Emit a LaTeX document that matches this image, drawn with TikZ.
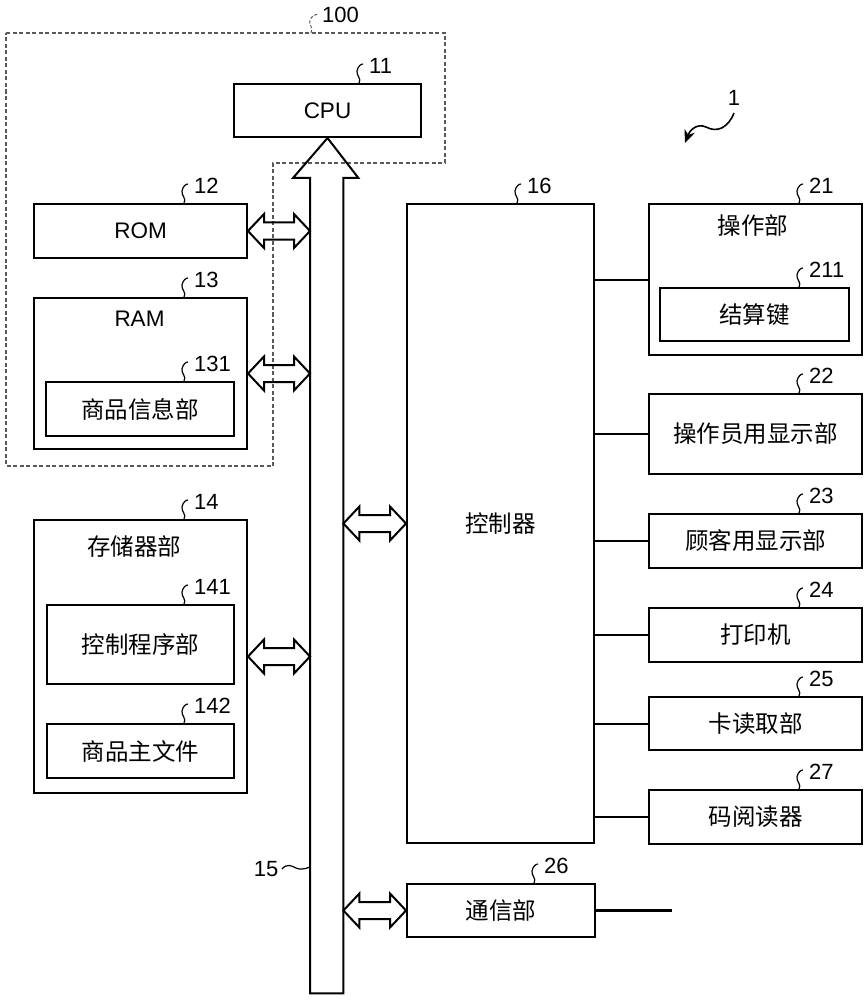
\documentclass[tikz,border=0pt]{standalone}
\usepackage{fontspec}
\setmainfont{Liberation Sans}
\newfontfamily\cjk{Noto Sans CJK SC}
\usetikzlibrary{calc,arrows.meta}

\newcommand{\dbl}[2]{\draw[dblarr] let \p1=(#1), \p2=(#2) in
  (\x1,\y1) -- (\x1+16pt,\y1+17pt) -- (\x1+16pt,\y1+8.5pt) -- (\x2-16pt,\y1+8.5pt) -- (\x2-16pt,\y1+17pt)
  -- (\x2,\y1) -- (\x2-16pt,\y1-17pt) -- (\x2-16pt,\y1-8.5pt) -- (\x1+16pt,\y1-8.5pt) -- (\x1+16pt,\y1-17pt) -- cycle;}

\newcommand{\reftag}[3]{%
  \path ($(#1.north east)+(-#2,0)$) coordinate (tg#3);
  \begin{scope}[shift={(tg#3)}]
    \draw[tagline] (0,0) .. controls (3,-4) and (-3,-8) .. (-2,-12) .. controls (-1,-17) and (2,-19) .. (4,-19);
    \node[tagtext, anchor=west] (lbl#3) at (10,-17) {#3};
  \end{scope}}

\begin{document}
\begin{tikzpicture}[x=1pt,y=-1pt,
  box/.style={draw, line width=2pt, rectangle, inner sep=0pt, anchor=north west, font=\cjk\fontsize{23.5}{27}\selectfont},
  lat/.style={font=\fontsize{22.5}{26}\selectfont},
  ttl/.style={inner sep=0pt, font=\cjk\fontsize{23.5}{27}\selectfont},
  tagline/.style={line width=1.2pt},
  tagtext/.style={inner sep=0pt, font=\fontsize{22}{25}\selectfont},
  dblarr/.style={draw, line width=2pt, line join=miter},
  conn/.style={line width=2pt},
  dashbox/.style={draw=black!65, line width=1.2pt, dash pattern=on 4pt off 2.5pt}]

\useasboundingbox (0,0) rectangle (867,1000);

% group 100
\draw[dashbox] (6,33) -- (445,33) -- (445,163) -- (273,163) -- (273,466) -- (6,466) -- cycle;
\coordinate (g100) at (311,33);
\draw[dashbox, line width=1pt, dash pattern=on 3pt off 2pt] (g100) .. controls (314,28) and (308,24) .. (310,20) .. controls (311,17) and (314,15) .. (318,14);
\node[tagtext, anchor=west] (lbl100) at (322,15) {100};

% boxes
\node[box, lat, minimum width=187, minimum height=53] (cpu) at (233,83) {CPU};
\node[box, lat, minimum width=213, minimum height=54] (rom) at (33,203) {ROM};
\node[box, minimum width=213, minimum height=151] (ram) at (33,297) {};
\node[ttl, lat] (ramt) at (139.5,318.5) {RAM};
\node[box, minimum width=188, minimum height=54] (pinfo) at (45,381) {商品信息部};
\node[box, minimum width=213, minimum height=273] (stor) at (33,519) {};
\node[ttl] (stort) at (134,547) {存储器部};
\node[box, minimum width=187, minimum height=79] (ctlprog) at (46,604) {控制程序部};
\node[box, minimum width=187, minimum height=54] (master) at (46,723) {商品主文件};

\node[box, minimum width=187, minimum height=639] (ctrl) at (406,203) {控制器};
\node[box, minimum width=188, minimum height=53] (comm) at (406,883) {通信部};

\node[box, minimum width=213, minimum height=151] (op) at (648,203) {};
\node[ttl] (opt) at (753,226) {操作部};
\node[box, minimum width=189, minimum height=53] (key) at (659,287) {结算键};
\node[box, minimum width=213, minimum height=80] (d22) at (648,393) {操作员用显示部};
\node[box, minimum width=213, minimum height=54] (d23) at (648,513) {顾客用显示部};
\node[box, minimum width=213, minimum height=54] (d24) at (648,607) {打印机};
\node[box, minimum width=213, minimum height=53] (d25) at (648,696) {卡读取部};
\node[box, minimum width=213, minimum height=54] (d27) at (648,789) {码阅读器};

% bus 15
\node[minimum width=33, minimum height=815, anchor=north west, inner sep=0pt] (bus) at (310,178) {};
\draw[line width=2pt, line join=miter] (bus.south west) -- (bus.north west) -- ++(-17,0) -- (cpu.south)
  -- ($(bus.north east)+(15,0)$) -- (bus.north east) -- (bus.south east) -- cycle;
\node[tagtext] (lbl15) at (266,869) {15};
\coordinate (b15) at ($(bus.north west)+(0,689)$);
\draw[tagline] (282,869) .. controls (287,863) and (292,866) .. (296,868) .. controls (300,870) and (305,869) .. (b15);

% double arrows
\dbl{rom.east}{bus.west |- rom.east}
\dbl{ram.east}{bus.west |- ram.east}
\dbl{stor.east}{bus.west |- stor.east}
\dbl{bus.east |- ctrl.west}{ctrl.west}
\dbl{bus.east |- comm.west}{comm.west}

% controller connections
\foreach \n in {op,d22,d23,d24,d25,d27}{\draw[conn] (ctrl.east |- \n.west) -- (\n.west);}
\coordinate (net) at ($(comm.east)+(76,0)$);
\draw[line width=3pt] (comm.east) -- (net);

% reference tags
\reftag{cpu}{63}{11}
\reftag{rom}{64}{12}
\reftag{ram}{64}{13}
\reftag{pinfo}{51}{131}
\reftag{stor}{64}{14}
\reftag{ctlprog}{51}{141}
\reftag{master}{51}{142}
\reftag{ctrl}{78}{16}
\reftag{comm}{62}{26}
\reftag{op}{64}{21}
\reftag{key}{51}{211}
\reftag{d22}{64}{22}
\reftag{d23}{64}{23}
\reftag{d24}{64}{24}
\reftag{d25}{64}{25}
\reftag{d27}{64}{27}

% device label 1
\node[tagtext] (lbl1) at (734,98) {1};
\coordinate (p1) at (685,143);
\draw[line width=1.6pt, -{Stealth[length=13pt,width=11pt]}] (734,113) .. controls (728,128) and (717,133) .. (706,127) .. controls (697,123) and (690,130) .. (p1);
\end{tikzpicture}
\end{document}
